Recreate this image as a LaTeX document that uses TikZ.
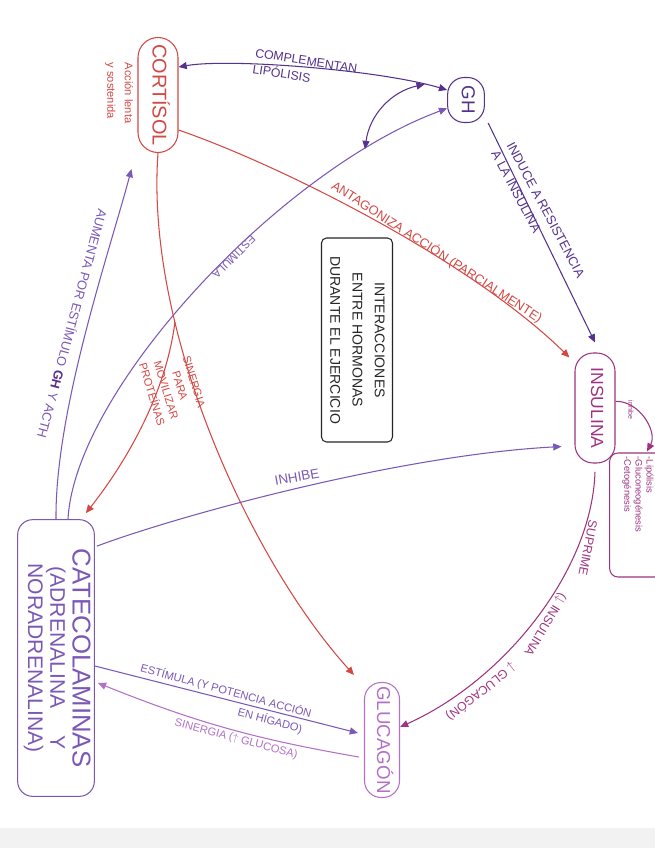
\documentclass[tikz,border=0pt]{standalone}
\usepackage{fontspec}
\setmainfont{Liberation Sans}
\newfontfamily\hand{Liberation Sans}
\usepackage{graphicx}
\usetikzlibrary{arrows.meta}

\definecolor{redpen}{RGB}{212,72,68}
\definecolor{dkpurple}{RGB}{86,50,140}
\definecolor{mdpurple}{RGB}{124,88,182}
\definecolor{magpen}{RGB}{158,52,128}
\definecolor{ltviolet}{RGB}{180,112,200}

\newcommand{\vtxt}[1]{\rotatebox{-90}{\begin{tabular}{@{}c@{}}#1\end{tabular}}}

\begin{document}
\begin{tikzpicture}[x=0.03cm, y=-0.03cm, >={Triangle[length=7pt,width=6pt]},
  pen/.style={line width=0.9pt},
  bubble/.style={draw, pen, rounded corners=#1, inner sep=0pt},
  lab/.style n args={2}{font=\hand\fontsize{#1}{#2}\selectfont, inner sep=0pt, align=center},
]

\useasboundingbox (0,0) rectangle (655,848);
\fill[white] (0,0) rectangle (655,848);
\fill[gray!10] (0,828) rectangle (655,848);

% hormonas
\node[bubble=0.6cm, draw=redpen, text=redpen, minimum width=1.2cm, minimum height=3.45cm,
  font=\hand\fontsize{17}{19}\selectfont] (cort) at (158,95) {\vtxt{CORTÍSOL}};
\node[lab={9.5}{15}, redpen, rotate=-90, align=left] (lenta) at (119,93) {Acción lenta\\y sostenida};

\node[bubble=0.5cm, draw=dkpurple, text=dkpurple, minimum width=1.1cm, minimum height=1.35cm,
  font=\hand\fontsize{16}{18}\selectfont] (gh) at (466,100) {\vtxt{GH}};

\node[bubble=0.55cm, draw=magpen, text=magpen, minimum width=1.2cm, minimum height=3.3cm,
  font=\hand\fontsize{15}{17}\selectfont] (ins) at (595,408) {\vtxt{INSULINA}};

\node[bubble=0.25cm, draw=magpen, text=magpen, minimum width=1.7cm, minimum height=3.72cm,
  font=\hand\fontsize{8}{9.5}\selectfont] (efx) at (638,515)
  {\rotatebox{-90}{\parbox{3.5cm}{\raggedright -Lipólisis\\-Gluconeogénesis\\-Cetogénesis}}};

\node[bubble=0.15cm, draw=black!85, text=black!85, minimum width=2.13cm, minimum height=6.12cm,
  font=\hand\fontsize{12}{19}\selectfont] (title) at (357,340)
  {\vtxt{INTERACCIONES\\ENTRE HORMONAS\\DURANTE EL EJERCICIO}};

\node[bubble=0.45cm, draw=mdpurple, text=mdpurple, minimum width=2.3cm, minimum height=8.3cm,
  font=\hand\fontsize{18}{19}\selectfont] (cat) at (56,658)
  {\vtxt{{\fontsize{22}{19}\selectfont CATECOLAMINAS}\\(ADRENALINA \quad Y\\NORADRENALINA)}};

\node[bubble=0.5cm, draw=ltviolet, text=ltviolet, minimum width=1.05cm, minimum height=3.45cm,
  font=\hand\fontsize{16}{18}\selectfont] (glu) at (382,740) {\vtxt{GLUCAGÓN}};

% conexiones
\draw[<->, pen, dkpurple] ([yshift=0.84cm]cort.east) .. controls (230,58) and (380,70) .. ([yshift=0.3cm]gh.west) coordinate[pos=0.9] (cg);
\draw[->, pen, mdpurple] ([xshift=0.36cm]cat.north) .. controls (75,390) and (280,170) .. ([yshift=-0.25cm]gh.west) coordinate[pos=0.84] (eg);
\draw[<->, pen, dkpurple] (eg) to[bend left=35] (cg);
\draw[->, pen, mdpurple] (cat.north) .. controls (55,410) and (110,250) .. ([shift={(-6,16)}]cort.south west);
\draw[->, pen, redpen] ([yshift=-1.05cm]cort.east) .. controls (280,165) and (470,260) .. ([shift={(-5,5)}]ins.north west);
\draw[->, pen, redpen] (cort.south) .. controls (145,330) and (250,560) .. ([shift={(-10,-7)}]glu.north west) coordinate[pos=0.3] (split);
\draw[->, pen, redpen] (split) .. controls (165,400) and (120,470) .. ([shift={(-9,-6)}]cat.north east);
\draw[->, pen, mdpurple] ([shift={(2,27)}]cat.north east) .. controls (180,515) and (400,455) .. ([shift={(-13,-17)}]ins.south west);
\draw[->, pen, dkpurple] ([xshift=0.1cm]gh.south east) -- ([yshift=0.3cm]ins.north);
\draw[->, pen, magpen] ([yshift=-0.25cm]ins.south) .. controls (592,570) and (505,680) .. ([yshift=0.39cm]glu.east);
\draw[->, pen, magpen] ([yshift=0.2cm]ins.east) to[bend left=60] ([shift={(9,-1)}]efx.north);
\draw[->, pen, mdpurple] ([yshift=-0.24cm]cat.east) -- ([shift={(-6,-7)}]glu.west);
\draw[->, pen, ltviolet] ([shift={(-5,17)}]glu.west) to[bend left=6] ([shift={(3,25)}]cat.east);

% etiquetas
\node[lab={10.5}{14}, dkpurple, rotate=-9, align=left] (lcomp) at (305,69) {COMPLEMENTAN\\LIPÓLISIS};
\node[lab={11}{12}, redpen, rotate=-33] (lant) at (437,252) {ANTAGONIZA ACCIÓN (PARCIALMENTE)};
\node[lab={11}{15}, dkpurple, rotate=-62, align=left] (lind) at (538,214) {INDUCE A RESISTENCIA\\A LA INSULINA};
\node[lab={9.5}{11}, mdpurple, rotate=-135] (lest) at (234,257) {ESTIMULA};
\node[lab={11}{12}, mdpurple, rotate=-105] (laum) at (73,324) {AUMENTA POR ESTÍMULO {\color{dkpurple}\bfseries GH} Y ACTH};
\node[lab={9.5}{12.5}, redpen, rotate=-73] (lsin) at (173,388) {SINERGIA\\PARA\\MOVILIZAR\\PROTEÍNAS};
\node[lab={11.5}{12}, mdpurple, rotate=10] (linh) at (297,477) {INHIBE};
\node[lab={6}{7}, magpen, rotate=-90] (linh2) at (631,410) {inhibe};
\node[lab={10.5}{12}, magpen, rotate=-101] (lsup1) at (588,548) {SUPRIME};
\node[lab={10.5}{12}, magpen, rotate=-121] (lsup2) at (545,624) {($\downarrow$ INSULINA};
\node[lab={10.5}{12}, magpen, rotate=-142] (lsup3) at (481,692) {$\downarrow$ GLUCAGÓN)};
\node[lab={9.5}{11}, mdpurple, rotate=-15] (lpot1) at (226,691) {ESTÍMULA (Y POTENCIA ACCIÓN};
\node[lab={9.5}{11}, mdpurple, rotate=-15] (lpot2) at (270,721) {EN HÍGADO)};
\node[lab={9.5}{11}, ltviolet, rotate=-15] (lglc) at (236,739) {SINERGIA ($\uparrow$ GLUCOSA)};

\end{tikzpicture}
\end{document}
